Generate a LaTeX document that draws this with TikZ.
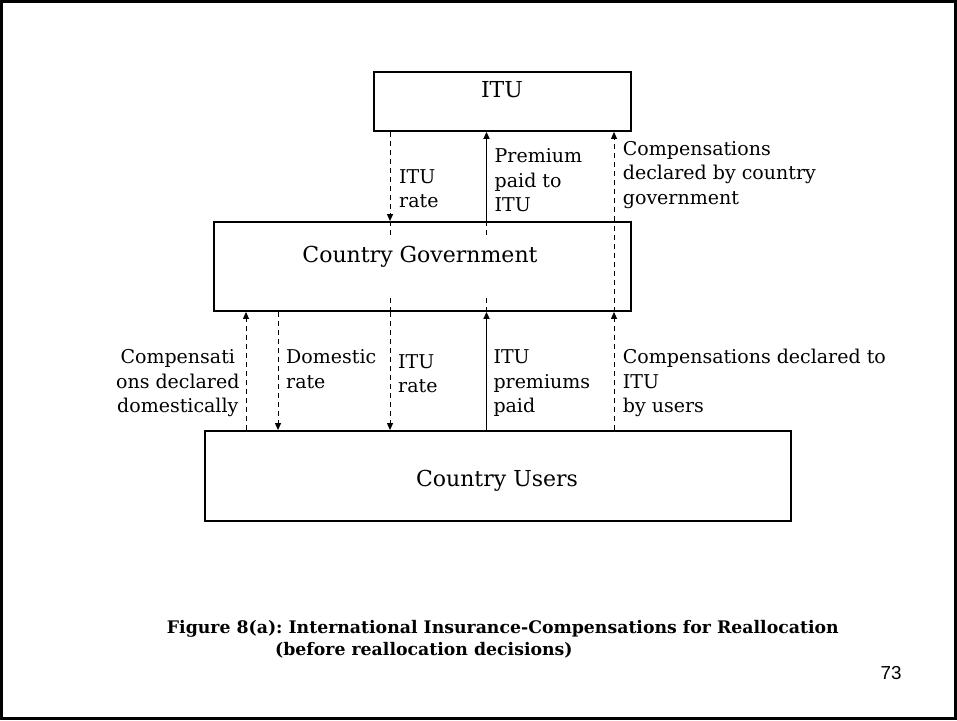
\documentclass[tikz,border=0pt]{standalone}
\usepackage{fontspec}
\setmainfont{DejaVu Serif}
\newfontfamily\numfont{Liberation Sans}
\usetikzlibrary{arrows.meta}
\newcommand{\lblstrut}{\rule{0pt}{16pt}}
\frenchspacing
\begin{document}
\begin{tikzpicture}[x=1pt,y=-1pt,
  box/.style={draw, line width=1.8pt, inner sep=0pt},
  boxtext/.style={anchor=base, inner sep=0pt, font=\fontsize{22}{26}\selectfont},
  lbl/.style={anchor=north west, inner sep=0pt, align=left, font=\fontsize{19}{24.5}\selectfont},
  tip/.style={-{Triangle[length=7pt,width=6pt]}},
  sarrow/.style={line width=1.7pt, tip},
  darrow/.style={line width=0.9pt, dash pattern=on 5pt off 4pt, tip},
  dline/.style={line width=0.9pt, dash pattern=on 5pt off 4pt},
  title/.style={anchor=base west, inner sep=0pt, font=\bfseries\fontsize{17.3}{20}\selectfont}
]
\useasboundingbox (0,0) rectangle (957,720);
\draw[line width=3pt, draw=black] (1.5,1.5) rectangle (955.5,718.5);

% boxes
\node[box, minimum width=257pt, minimum height=59pt] (itu) at (502.5,101.5) {};
\node[box, minimum width=417pt, minimum height=89pt] (gov) at (422.5,266.5) {};
\node[box, minimum width=586pt, minimum height=90pt] (users) at (498,476) {};
\node[boxtext] (itutxt) at (502,97.3) {ITU};
\node[boxtext] (govtxt) at (420,262.7) {Country Government};
\node[boxtext] (userstxt) at (497,486.7) {Country Users};

% columns
\coordinate (c246) at (246,0);
\coordinate (c278) at (278,0);
\coordinate (c390) at (390,0);
\coordinate (c486) at (486.5,0);
\coordinate (c614) at (614,0);

% upper connectors
\draw[darrow] (itu.south -| c390) -- (gov.north -| c390);
\draw[sarrow] (gov.north -| c486) -- (itu.south -| c486);
\draw[darrow] (gov.north -| c614) -- (itu.south -| c614);
% stubs inside government box
\draw[dline] (gov.north -| c390) -- ++(0,15);
\draw[dline] (gov.south -| c390) -- ++(0,-14);
\draw[dline] (gov.north -| c486) -- ++(0,15);
\draw[dline] (gov.south -| c486) -- ++(0,-14);
\draw[dline] (gov.south -| c614) -- (gov.north -| c614);

% lower connectors
\draw[darrow] (users.north -| c246) -- (gov.south -| c246);
\draw[darrow] (gov.south -| c278) -- (users.north -| c278);
\draw[darrow] (gov.south -| c390) -- (users.north -| c390);
\draw[sarrow] (users.north -| c486) -- (gov.south -| c486);
\draw[darrow] (users.north -| c614) -- (gov.south -| c614);

% upper labels
\node[lbl] (l1) at (399,167) {\lblstrut ITU\\rate};
\node[lbl] (l2) at (494.5,146.7) {\lblstrut Premium\\paid to\\ITU};
\node[lbl] (l3) at (622.7,139) {\lblstrut Compensations\\declared by country\\government};

% lower labels
\node[lbl, anchor=north, align=center] (l4) at (177.8,347.3) {\lblstrut Compensati\\ons declared\\domestically};
\node[lbl] (l5) at (286,347.3) {\lblstrut Domestic\\rate};
\node[lbl] (l6) at (398,352) {\lblstrut ITU\\rate};
\node[lbl] (l7) at (493.3,347.3) {\lblstrut ITU\\premiums\\paid};
\node[lbl] (l8) at (622.7,347.3) {\lblstrut Compensations declared to\\ITU\\by users};

% caption
\node[title] (t1) at (166.7,633) {Figure 8(a): International Insurance-Compensations for Reallocation};
\node[title] (t2) at (275,655) {(before reallocation decisions)};
\node[anchor=base west, inner sep=0pt, font=\numfont\fontsize{18.8}{22}\selectfont] (pg) at (880.5,679.3) {73};
\end{tikzpicture}
\end{document}
